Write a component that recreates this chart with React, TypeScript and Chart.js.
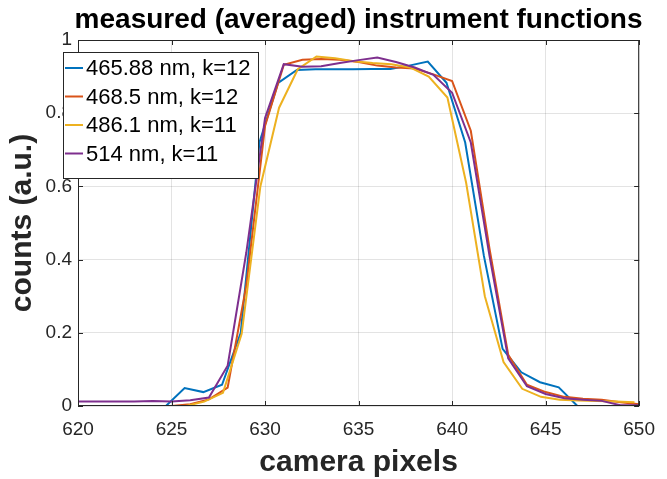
import React, { useEffect, useRef } from "react";
import { Chart, registerables } from "chart.js";

Chart.register(...registerables);

// Camera pixel positions (integer grid) and the slightly offset grids of two series
const pixels = [
  620, 621, 622, 623, 624, 625, 626, 627, 628, 629, 630, 631, 632, 633, 634, 635,
  636, 637, 638, 639, 640, 641, 642, 643, 644, 645, 646, 647, 648, 649, 650,
];
const pixelsBlue = [
  620.7, 621.7, 622.7, 623.7, 624.7, 625.7, 626.7, 627.7, 628.7, 629.7, 630.7, 631.7,
  632.7, 633.7, 634.7, 635.7, 636.7, 637.7, 638.7, 639.7, 640.7, 641.7, 642.7, 643.7,
  644.7, 645.7, 646.7, 647.7, 648.7, 649.7,
];
const pixelsYellow = [
  620, 620.75, 621.75, 622.75, 623.75, 624.75, 625.75, 626.75, 627.75, 628.75, 629.75,
  630.75, 631.75, 632.75, 633.75, 634.75, 635.75, 636.75, 637.75, 638.75, 639.75,
  640.75, 641.75, 642.75, 643.75, 644.75, 645.75, 646.75, 647.75, 648.75, 649.75,
];

// Averaged instrument functions (normalised counts)
const counts465 = [
  0, 0, 0, 0, 0, 0.049, 0.038, 0.058, 0.2, 0.72, 0.883, 0.918, 0.92, 0.92, 0.92, 0.921,
  0.921, 0.93, 0.941, 0.883, 0.72, 0.41, 0.156, 0.092, 0.065, 0.051, 0, 0, 0, 0,
];
const counts468 = [
  0, 0, 0, 0, 0, 0, 0.005, 0.018, 0.05, 0.33, 0.765, 0.932, 0.946, 0.948, 0.946, 0.94,
  0.93, 0.925, 0.922, 0.906, 0.888, 0.752, 0.43, 0.14, 0.058, 0.038, 0.025, 0.02, 0.017,
  0.01, 0.005,
];
const counts486 = [
  0, 0, 0, 0, 0, 0, 0, 0.012, 0.036, 0.197, 0.6, 0.815, 0.92, 0.955, 0.95, 0.942, 0.937,
  0.934, 0.925, 0.9, 0.843, 0.61, 0.3, 0.12, 0.047, 0.025, 0.017, 0.015, 0.014, 0.012,
  0.01,
];
const counts514 = [
  0.012, 0.012, 0.012, 0.012, 0.014, 0.012, 0.016, 0.023, 0.11, 0.42, 0.787, 0.934,
  0.927, 0.928, 0.937, 0.945, 0.952, 0.94, 0.925, 0.905, 0.856, 0.72, 0.41, 0.13, 0.054,
  0.033, 0.021, 0.017, 0.014, 0.002, 0.002,
];

const seriesLabels = ["465.88 nm, k=12", "468.5 nm, k=12", "486.1 nm, k=11", "514 nm, k=11"];
const seriesColors = ["#0072BD", "#D95319", "#EDB120", "#7E2F8E"];

const xTicks = [620, 625, 630, 635, 640, 645, 650];
const yTicks = [0, 0.2, 0.4, 0.6, 0.8, 1];

const titleText = "measured (averaged) instrument functions";
const xTitle = "camera pixels";
const yTitle = "counts (a.u.)";

const FONT = "'Liberation Sans', Arial, Helvetica, sans-serif";
const AXIS_COLOR = "#262626";

const toPoints = (xs: number[], ys: number[]) => xs.map((x, i) => ({ x, y: ys[i] }));

// Box, inward ticks, legend and titles drawn on top of the plot
const decorPlugin = {
  id: "decor",
  afterDraw(chart: any) {
    const { ctx, chartArea } = chart;
    const { left, right, top, bottom } = chartArea;
    const xs = chart.scales.x;
    const ys = chart.scales.y;
    ctx.save();

    // axes box
    ctx.strokeStyle = AXIS_COLOR;
    ctx.lineWidth = 1;
    ctx.strokeRect(left + 0.5, top + 0.5, right - left - 1, bottom - top - 1);

    // inward tick marks on all four sides
    const tl = 5;
    ctx.beginPath();
    xTicks.forEach((v) => {
      const px = Math.round(xs.getPixelForValue(v)) + 0.5;
      ctx.moveTo(px, bottom);
      ctx.lineTo(px, bottom - tl);
      ctx.moveTo(px, top);
      ctx.lineTo(px, top + tl);
    });
    yTicks.forEach((v) => {
      const py = Math.round(ys.getPixelForValue(v)) + 0.5;
      ctx.moveTo(left, py);
      ctx.lineTo(left + tl, py);
      ctx.moveTo(right, py);
      ctx.lineTo(right - tl, py);
    });
    ctx.stroke();

    // legend
    const lx = 63;
    const ly = 52;
    const lw = 195;
    const lh = 126;
    ctx.fillStyle = "#ffffff";
    ctx.fillRect(lx, ly, lw, lh);
    ctx.strokeStyle = AXIS_COLOR;
    ctx.strokeRect(lx + 0.5, ly + 0.5, lw, lh);
    ctx.font = `22px ${FONT}`;
    ctx.textBaseline = "middle";
    ctx.textAlign = "left";
    chart.data.datasets.forEach((ds: any, i: number) => {
      const cy = ly + 16 + i * 28.5;
      ctx.strokeStyle = ds.borderColor;
      ctx.lineWidth = 2;
      ctx.beginPath();
      ctx.moveTo(lx + 2, cy);
      ctx.lineTo(lx + 20, cy);
      ctx.stroke();
      ctx.fillStyle = "#000000";
      ctx.fillText(ds.label, lx + 23, cy + 1);
    });

    // titles
    ctx.fillStyle = "#000000";
    ctx.textAlign = "center";
    ctx.textBaseline = "alphabetic";
    ctx.font = `bold 28px ${FONT}`;
    ctx.fillText(titleText, (left + right) / 2, 28);
    ctx.fillStyle = AXIS_COLOR;
    ctx.font = `bold 30px ${FONT}`;
    ctx.fillText(xTitle, (left + right) / 2, 471);
    ctx.save();
    ctx.translate(31, (top + bottom) / 2);
    ctx.rotate(-Math.PI / 2);
    ctx.fillText(yTitle, 0, 0);
    ctx.restore();

    ctx.restore();
  },
};

export default function App() {
  const canvasRef = useRef<HTMLCanvasElement | null>(null);

  useEffect(() => {
    if (!canvasRef.current) return;
    const series = [
      toPoints(pixelsBlue, counts465),
      toPoints(pixels, counts468),
      toPoints(pixelsYellow, counts486),
      toPoints(pixels, counts514),
    ];
    const chart = new Chart(canvasRef.current, {
      type: "line",
      data: {
        datasets: series.map((data, i) => ({
          label: seriesLabels[i],
          data,
          borderColor: seriesColors[i],
          backgroundColor: seriesColors[i],
          borderWidth: 2,
          pointRadius: 0,
          tension: 0,
          fill: false,
          order: 4 - i,
        })),
      },
      options: {
        animation: false,
        responsive: false,
        devicePixelRatio: 1,
        events: [],
        layout: { padding: { top: 40, right: 19, left: 0, bottom: 0 } },
        plugins: {
          legend: { display: false },
          title: { display: false },
          tooltip: { enabled: false },
        },
        scales: {
          x: {
            type: "linear",
            min: 620,
            max: 650,
            afterFit: (scale: any) => {
              scale.height = 73;
            },
            afterBuildTicks: (scale: any) => {
              scale.ticks = xTicks.map((v) => ({ value: v }));
            },
            ticks: {
              padding: 12,
              color: AXIS_COLOR,
              font: { family: FONT, size: 19 },
              maxRotation: 0,
              callback: (v: any) => String(v),
            },
            grid: { color: "rgba(38,38,38,0.13)", drawTicks: false, lineWidth: 1 },
            border: { display: false },
          },
          y: {
            type: "linear",
            min: 0,
            max: 1,
            afterFit: (scale: any) => {
              scale.width = 78;
            },
            afterBuildTicks: (scale: any) => {
              scale.ticks = yTicks.map((v) => ({ value: v }));
            },
            ticks: {
              padding: 6,
              color: AXIS_COLOR,
              font: { family: FONT, size: 19 },
              callback: (v: any) => String(Math.round(Number(v) * 10) / 10),
            },
            grid: { color: "rgba(38,38,38,0.13)", drawTicks: false, lineWidth: 1 },
            border: { display: false },
          },
        },
      },
      plugins: [decorPlugin],
    });
    return () => chart.destroy();
  }, []);

  return (
    <div style={{ position: "absolute", left: 0, top: 0, width: 667, height: 479, background: "#fff" }}>
      <canvas ref={canvasRef} width={667} height={479} style={{ display: "block" }} />
    </div>
  );
}
